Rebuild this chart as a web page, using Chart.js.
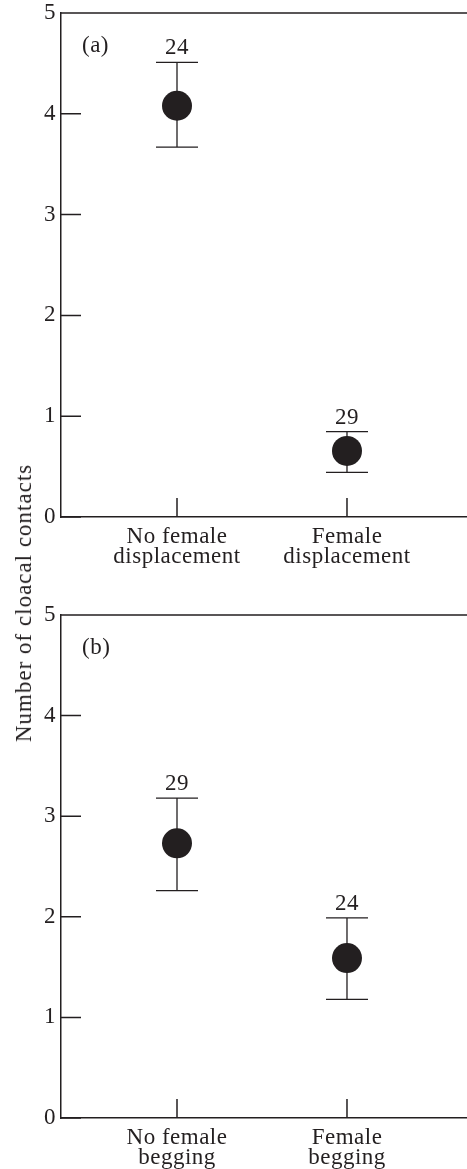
<!DOCTYPE html>
<html>
<head>
<meta charset="utf-8">
<script src="https://cdn.jsdelivr.net/npm/chart.js@4"></script>
<style>
  body { margin: 0; background: #fff; }
  #wrap { position: relative; width: 467px; height: 1169px; overflow: hidden; }
  canvas { position: absolute; left: 0; }
  #ytitle {
    position: absolute; left: 24px; top: 603px;
    transform: translate(-50%, -50%) rotate(-90deg);
    font: 23px 'Liberation Serif', serif; letter-spacing: 1px;
    color: #231f20; white-space: nowrap;
  }
</style>
</head>
<body>
<div id="wrap">
  <canvas id="panelA" width="467" height="600" style="top:0"></canvas>
  <canvas id="panelB" width="467" height="569" style="top:600px"></canvas>
  <div id="ytitle">Number of cloacal contacts</div>
</div>
<script>
// y axis tick values (shared)
const yTicks = [0, 1, 2, 3, 4, 5];

// panel (a)
const groupsA = [['No female', 'displacement'], ['Female', 'displacement']];
const meansA = [4.08, 0.655];
const upperA = [4.51, 0.846];
const lowerA = [3.67, 0.443];
const nA = [24, 29];

// panel (b)
const groupsB = [['No female', 'begging'], ['Female', 'begging']];
const meansB = [2.73, 1.59];
const upperB = [3.18, 1.99];
const lowerB = [2.26, 1.18];
const nB = [29, 24];

const ink = '#231f20';
const serif = "'Liberation Serif', serif";

// draws the frame top line, inward ticks, error bars, n labels and panel tag
const extras = {
  id: 'extras',
  beforeDraw(chart) {
    chart.ctx.letterSpacing = '0.5px';
  },
  beforeDatasetsDraw(chart, args, opts) {
    const {ctx, chartArea: a, scales: {x, y}} = chart;
    ctx.save();
    ctx.strokeStyle = ink;
    ctx.lineWidth = 1.5;
    ctx.beginPath();
    ctx.moveTo(a.left, a.top);
    ctx.lineTo(a.right + 2, a.top);
    // inward y ticks
    yTicks.forEach(v => {
      const py = y.getPixelForValue(v);
      ctx.moveTo(a.left, py);
      ctx.lineTo(a.left + 20, py);
    });
    // inward x ticks
    opts.groups.forEach((g, i) => {
      const px = x.getPixelForValue(i + 1);
      ctx.moveTo(px, a.bottom);
      ctx.lineTo(px, a.bottom - 19);
    });
    ctx.stroke();

    // error bars
    ctx.lineWidth = 1.3;
    ctx.beginPath();
    opts.groups.forEach((g, i) => {
      const px = x.getPixelForValue(i + 1);
      const top = y.getPixelForValue(opts.upper[i]);
      const bot = y.getPixelForValue(opts.lower[i]);
      ctx.moveTo(px, top); ctx.lineTo(px, bot);
      ctx.moveTo(px - 21, top); ctx.lineTo(px + 21, top);
      ctx.moveTo(px - 21, bot); ctx.lineTo(px + 21, bot);
    });
    ctx.stroke();

    // sample sizes and panel tag
    ctx.fillStyle = ink;
    ctx.font = '23px ' + serif;
    ctx.textAlign = 'center';
    ctx.textBaseline = 'alphabetic';
    opts.groups.forEach((g, i) => {
      const px = x.getPixelForValue(i + 1);
      const top = y.getPixelForValue(opts.upper[i]);
      ctx.fillText(String(opts.n[i]), px, top - 8);
    });
    ctx.textAlign = 'left';
    ctx.textBaseline = 'middle';
    ctx.fillText(opts.tag, a.left + 21, a.top + 33);
    ctx.restore();
  }
};

function makePanel(id, groups, means, upper, lower, n, tag, padTop, axisHeight) {
  return new Chart(document.getElementById(id), {
    type: 'scatter',
    data: {
      datasets: [{
        data: means.map((m, i) => ({x: i + 1, y: m})),
        pointRadius: 15,
        pointHoverRadius: 15,
        backgroundColor: ink,
        borderColor: ink,
        borderWidth: 0
      }]
    },
    options: {
      responsive: false,
      animation: false,
      layout: {autoPadding: false, padding: {top: padTop, left: 0, right: 0, bottom: 0}},
      plugins: {
        legend: {display: false},
        tooltip: {enabled: false},
        extras: {groups, upper, lower, n, tag}
      },
      scales: {
        x: {
          type: 'linear',
          min: 0.3176,
          max: 2.706,
          afterBuildTicks: s => { s.ticks = groups.map((g, i) => ({value: i + 1})); },
          afterFit: s => { s.height = axisHeight; s.paddingLeft = 0; s.paddingRight = 0; },
          grid: {display: false, drawTicks: false},
          border: {display: true, color: ink, width: 1.5},
          ticks: {
            color: ink,
            padding: 10,
            maxRotation: 0,
            autoSkip: false,
            font: {family: serif, size: 23, lineHeight: 0.87},
            callback: v => groups[v - 1] || ''
          }
        },
        y: {
          min: 0,
          max: 5,
          afterBuildTicks: s => { s.ticks = yTicks.map(v => ({value: v})); },
          afterFit: s => { s.width = 61; s.paddingTop = 0; s.paddingBottom = 0; },
          grid: {display: false, drawTicks: false},
          border: {display: true, color: ink, width: 1.5},
          ticks: {
            color: ink,
            padding: 5,
            font: {family: serif, size: 23, lineHeight: 1}
          }
        }
      }
    },
    plugins: [extras]
  });
}

makePanel('panelA', groupsA, meansA, upperA, lowerA, nA, '(a)', 13, 83);
makePanel('panelB', groupsB, meansB, upperB, lowerB, nB, '(b)', 15, 51);
</script>
</body>
</html>
